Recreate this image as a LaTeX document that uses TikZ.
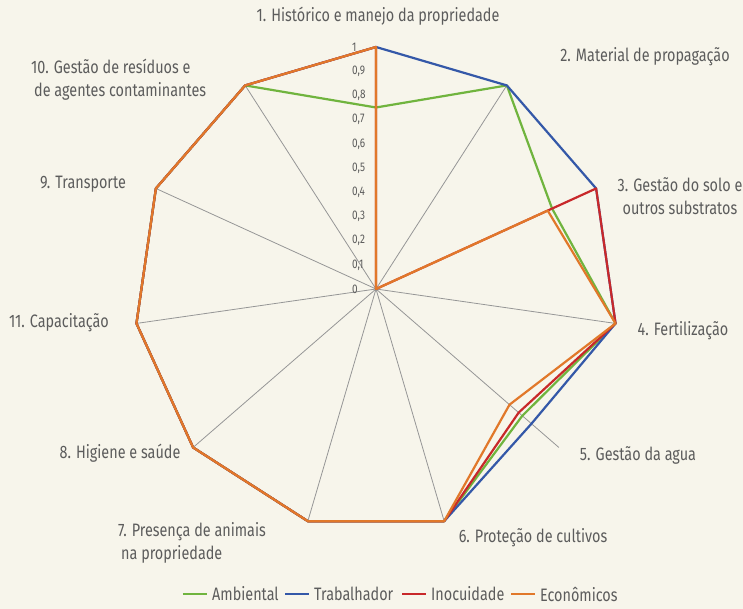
\documentclass[tikz,border=0pt]{standalone}
\usepackage{fontspec}
\setmainfont[FakeStretch=0.8]{Fira Sans}
\usetikzlibrary{positioning}
\definecolor{fundo}{RGB}{247,245,235}
\definecolor{texto}{RGB}{92,92,92}
\definecolor{raio}{RGB}{150,150,150}
\definecolor{verde}{RGB}{112,180,62}
\definecolor{azul}{RGB}{52,88,168}
\definecolor{vermelho}{RGB}{200,40,42}
\definecolor{laranja}{RGB}{225,120,42}

\begin{document}
\begin{tikzpicture}[x=1pt, y=1pt,
	eixo/.style={draw=raio, line width=0.8pt},
	serie/.style={line width=2.2pt, line join=round},
	rotulo/.style={text=texto, font=\fontsize{18}{23}\selectfont, inner sep=0pt},
	escala/.style={text=texto, font=\fontsize{12.5}{14}\selectfont, inner sep=0pt, anchor=west},
	legenda/.style={rotulo, anchor=west}]
	\fill[fundo] (-376,-320) rectangle (367,289);
	\useasboundingbox (-376,-320) rectangle (367,289);
	\coordinate (c) at (0,0);
	% raios do radar
	\foreach \i in {0,...,10}
		\coordinate (r\i) at ({90-\i*360/11}:242);
	\foreach \i in {0,...,10}
		\draw[eixo] (c) -- (r\i);
	% escala
	\foreach \v/\t in {0/0,1/{0,1},2/{0,2},3/{0,3},4/{0,4},5/{0,5},6/{0,6},7/{0,7},8/{0,8},9/{0,9},10/1}
		\node[escala] (e\v) at (-24,{24.2*\v}) {\t};
	% series
	\foreach \v [count=\i from 0] in {0.75,1,0.8,1,0.8,1,1,1,1,1,1}
		\coordinate (amb\i) at ({90-\i*360/11}:{\v*242});
	\foreach \v [count=\i from 0] in {1,1,1,1,0.85,1,1,1,1,1,1}
		\coordinate (tra\i) at ({90-\i*360/11}:{\v*242});
	\foreach \v [count=\i from 0] in {1,0,1,1,0.78,1,1,1,1,1,1}
		\coordinate (ino\i) at ({90-\i*360/11}:{\v*242});
	\foreach \v [count=\i from 0] in {1,0,0.78,1,0.73,1,1,1,1,1,1}
		\coordinate (eco\i) at ({90-\i*360/11}:{\v*242});
	\draw[serie, verde] (amb0) -- (amb1) -- (amb2) -- (amb3) -- (amb4) -- (amb5) -- (amb6) -- (amb7) -- (amb8) -- (amb9) -- (amb10) -- cycle;
	\draw[serie, azul] (tra0) -- (tra1) -- (tra2) -- (tra3) -- (tra4) -- (tra5) -- (tra6) -- (tra7) -- (tra8) -- (tra9) -- (tra10) -- cycle;
	\draw[serie, vermelho] (ino0) -- (ino1) -- (ino2) -- (ino3) -- (ino4) -- (ino5) -- (ino6) -- (ino7) -- (ino8) -- (ino9) -- (ino10) -- cycle;
	\draw[serie, laranja] (eco0) -- (eco1) -- (eco2) -- (eco3) -- (eco4) -- (eco5) -- (eco6) -- (eco7) -- (eco8) -- (eco9) -- (eco10) -- cycle;
	% rotulos dos eixos
	\node[rotulo] (l1) at (2,273) {1. Histórico e manejo da propriedade};
	\node[rotulo] (l2) at (269,232) {2. Material de propagação};
	\node[rotulo, align=center] (l3) at (304,93) {3. Gestão do solo e\\outros substratos};
	\node[rotulo] (l4) at (307,-42) {4. Fertilização};
	\node[rotulo] (l5) at (262,-166) {5. Gestão da agua};
	\node[rotulo] (l6) at (157,-249) {6. Proteção de cultivos};
	\node[rotulo, align=left, anchor=west] (l7) at (-258,-254) {7. Presença de animais\\\hspace{3pt}na propriedade};
	\node[rotulo] (l8) at (-256,-164) {8. Higiene e saúde};
	\node[rotulo] (l11) at (-317,-34) {11. Capacitação};
	\node[rotulo] (l9) at (-293,105) {9. Transporte};
	\node[rotulo, align=left, anchor=west] (l10) at (-345,209) {10. Gestão de resíduos e\\\hspace{3pt}de agentes contaminantes};
	% legenda
	\coordinate (g1) at (-193,-305);
	\coordinate (g2) at (-91,-305);
	\coordinate (g3) at (26,-305);
	\coordinate (g4) at (135,-305);
	\node[legenda] (tAmb) [right=5pt of g1, xshift=24pt] {Ambiental};
	\node[legenda] (tTra) [right=5pt of g2, xshift=24pt] {Trabalhador};
	\node[legenda] (tIno) [right=5pt of g3, xshift=24pt] {Inocuidade};
	\node[legenda] (tEco) [right=5pt of g4, xshift=24pt] {Econômicos};
	\draw[verde, line width=1.6pt] (g1) -- ++(24,0);
	\draw[azul, line width=1.6pt] (g2) -- ++(24,0);
	\draw[vermelho, line width=1.6pt] (g3) -- ++(24,0);
	\draw[laranja, line width=1.6pt] (g4) -- ++(24,0);
\end{tikzpicture}
\end{document}
